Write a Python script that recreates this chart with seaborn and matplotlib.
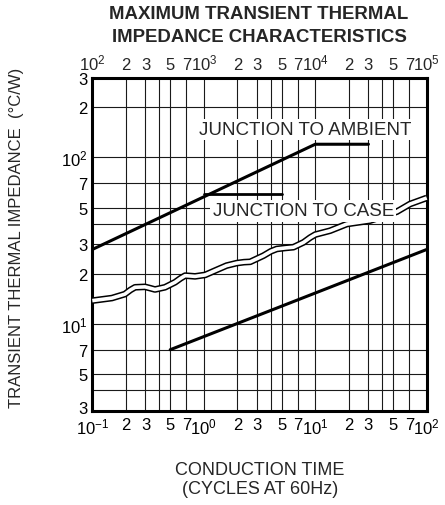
import matplotlib
matplotlib.use("Agg")
import matplotlib.pyplot as plt
import matplotlib.transforms as mtransforms
import seaborn as sns
from matplotlib.ticker import NullFormatter

# ---- data ----
ambient_x = [0.1, 10, 30]
ambient_y = [28, 120, 120]

case_leader_x = [1.0, 5.0]
case_leader_y = [60, 60]

lower_x = [0.5, 100]
lower_y = [7, 28]

# wavy scale-break band
wave_x = [0.1, 0.15, 0.196, 0.22, 0.242, 0.297, 0.33, 0.365, 0.449, 0.553, 0.62,
          0.68, 0.76, 0.835, 1.03, 1.26, 1.60, 1.98, 2.3, 2.61, 3.43, 4.0, 4.52,
          5.4, 6.38, 7.86, 9.0, 10.0, 13.6, 19.2, 31.0, 53.9, 70.8, 100]
wave_y = [13.8, 14.3, 15.1, 16.0, 16.6, 16.7, 16.4, 16.1, 16.6, 17.8, 18.8,
          19.5, 19.4, 19.3, 19.7, 20.9, 22.4, 23.2, 23.5, 23.6, 25.7, 27.3, 28.2,
          28.6, 28.9, 30.9, 33.0, 34.4, 36.3, 39.8, 41.7, 47.2, 52.5, 57.1]

x_ticks = [0.1, 0.2, 0.3, 0.5, 0.7, 1, 2, 3, 5, 7, 10, 20, 30, 50, 70, 100]
x_labels = ["10^-1", "2", "3", "5", "7", "10^0", "2", "3", "5", "7",
            "10^1", "2", "3", "5", "7", "10^2"]
x_grid_only = [0.4, 4, 40]

top_ticks = [100, 200, 300, 500, 700, 1e3, 2e3, 3e3, 5e3, 7e3,
             1e4, 2e4, 3e4, 5e4, 7e4, 1e5]
top_labels = ["10^2", "2", "3", "5", "7", "10^3", "2", "3", "5", "7",
              "10^4", "2", "3", "5", "7", "10^5"]

y_ticks = [3, 5, 7, 10, 20, 30, 50, 70, 100, 200, 300]
y_labels = ["3", "5", "7", "10^1", "2", "3", "5", "7", "10^2", "2", "3"]
y_grid_only = [4, 40]


def fmt(s):
    if "^" in s:
        b, e = s.split("^")
        return r"$\mathregular{%s^{%s}}$" % (b, e)
    return s


sns.set_style("white")
plt.rcParams["font.family"] = ["Liberation Sans", "DejaVu Sans"]
plt.rcParams["mathtext.fontset"] = "custom"
plt.rcParams["mathtext.rm"] = "Liberation Sans"
plt.rcParams["mathtext.it"] = "Liberation Sans:italic"
plt.rcParams["mathtext.bf"] = "Liberation Sans:bold"

fig = plt.figure(figsize=(4.45, 5.06), dpi=100)
ax = fig.add_axes([0.2074, 0.1858, 0.7515, 0.6581])
ax.set_xscale("log")
ax.set_yscale("log")
ax.set_xlim(0.1, 100)
ax.set_ylim(3, 300)

ax.set_xticks(x_ticks)
ax.set_xticklabels([fmt(s) for s in x_labels])
ax.set_xticks(x_grid_only, minor=True)
ax.set_yticks(y_ticks)
ax.set_yticklabels([fmt(s) for s in y_labels])
ax.set_yticks(y_grid_only, minor=True)
ax.xaxis.set_minor_formatter(NullFormatter())
ax.yaxis.set_minor_formatter(NullFormatter())
ax.tick_params(which="both", length=0, labelsize=12, colors="black")
ax.tick_params(axis="x", pad=4)
ax.tick_params(axis="y", pad=3.5)
ax.grid(which="both", color="0.1", lw=0.8)
ax.set_axisbelow(True)

# lift the lowest y label a little so it clears the 10^-1 label
lbl = ax.get_yticklabels()[0]
lbl.set_transform(lbl.get_transform() +
                  mtransforms.ScaledTranslation(0, 4 / 100, fig.dpi_scale_trans))

for sp in ax.spines.values():
    sp.set_linewidth(2.2)
    sp.set_color("black")

secax = ax.secondary_xaxis("top", functions=(lambda x: x * 1000, lambda x: x / 1000))
secax.set_xticks(top_ticks)
secax.set_xticklabels([fmt(s) for s in top_labels])
secax.xaxis.set_minor_formatter(NullFormatter())
secax.tick_params(which="both", length=0, labelsize=12, pad=4)
secax.spines["top"].set_visible(False)

# curves
sns.lineplot(x=ambient_x, y=ambient_y, ax=ax, color="black", lw=2.2,
             sort=False, estimator=None, zorder=3)
sns.lineplot(x=case_leader_x, y=case_leader_y, ax=ax, color="black", lw=2.0,
             sort=False, estimator=None, zorder=3)
sns.lineplot(x=lower_x, y=lower_y, ax=ax, color="black", lw=2.2,
             sort=False, estimator=None, zorder=3)

# double wavy break line
sns.lineplot(x=wave_x, y=wave_y, ax=ax, color="black", lw=4.8, sort=False,
             estimator=None, zorder=4, clip_on=False, solid_capstyle="butt",
             solid_joinstyle="round")
sns.lineplot(x=wave_x, y=wave_y, ax=ax, color="white", lw=2.6, sort=False,
             estimator=None, zorder=4.1, clip_on=False, solid_capstyle="butt",
             solid_joinstyle="round")

box = dict(facecolor="white", edgecolor="none", pad=1.5)
ax.text(8.2, 148, "JUNCTION TO AMBIENT", ha="center", va="center",
        fontsize=13.5, bbox=box, zorder=5)
ax.text(7.8, 47.7, "JUNCTION TO CASE", ha="center", va="center",
        fontsize=13.5, bbox=box, zorder=5)

fig.text(259 / 445, 1 - 6 / 506, "MAXIMUM TRANSIENT THERMAL\nIMPEDANCE CHARACTERISTICS",
         ha="center", va="top", fontsize=13.4, fontweight="bold", linespacing=1.45)
fig.text(17 / 445, 1 - 238 / 506, "TRANSIENT THERMAL IMPEDANCE  (°C/W)",
         ha="center", va="center", rotation=90, fontsize=12)
fig.text(260 / 445, 1 - 480 / 506, "CONDUCTION TIME\n(CYCLES AT 60Hz)",
         ha="center", va="center", fontsize=13, linespacing=1.1)

plt.savefig("out.png", dpi=100)
print("Saved out.png")
